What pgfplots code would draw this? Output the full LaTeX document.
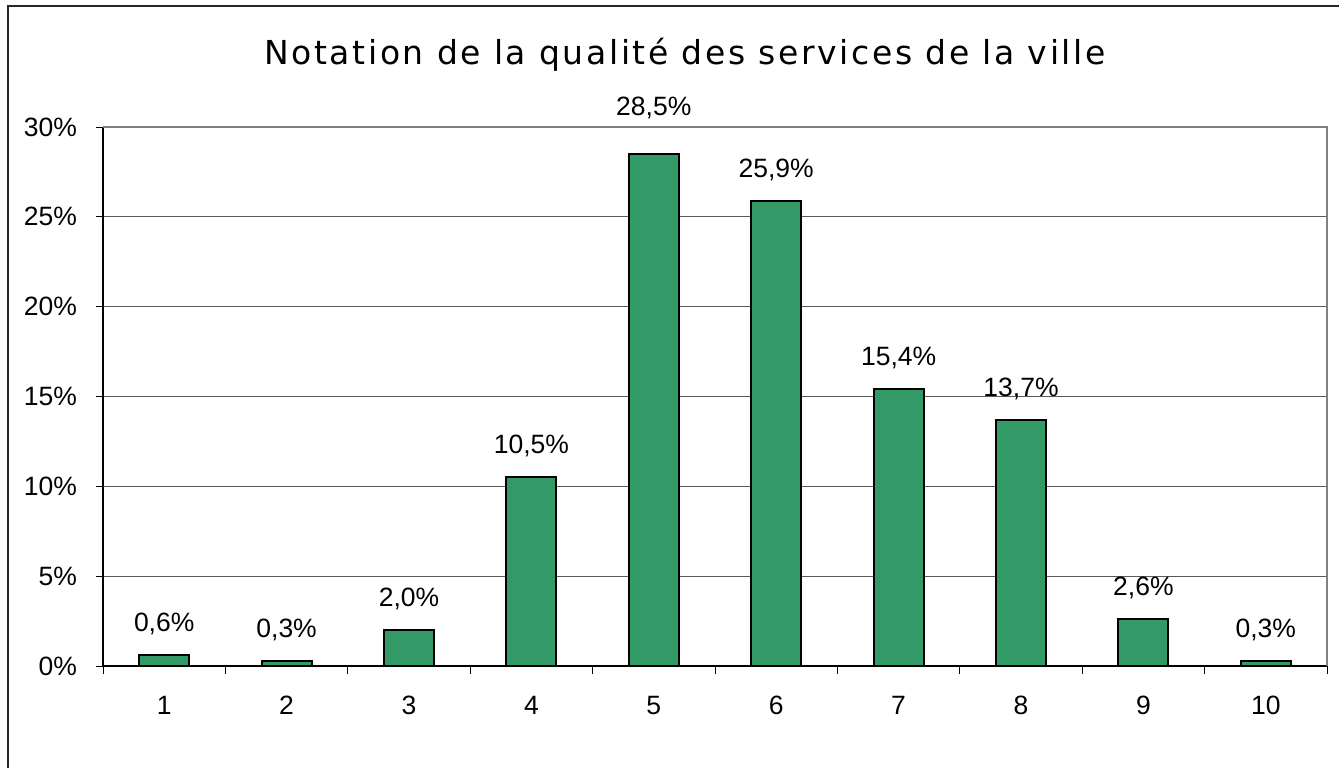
\documentclass[border=0pt]{standalone}
\usepackage{pgfplots}
\pgfplotsset{compat=1.18}
\usepackage{fontspec}
\setmainfont{Liberation Sans}
\newfontfamily\titlefont[LetterSpace=8]{DejaVu Sans}
\definecolor{barg}{HTML}{339966}
\begin{document}
\begin{tikzpicture}
\useasboundingbox (0,0) rectangle (669.5pt,-383.5pt);
\draw[line width=0.8pt, black!85] (4pt,-400pt) -- (4pt,-3pt) -- (700pt,-3pt);
\node[font=\titlefont\fontsize{16.5}{20}\selectfont] at (342.5pt,-27.5pt) {Notation de la qualité des services de la ville};
\begin{axis}[
  at={(51.5pt,-333pt)}, anchor=south west,
  scale only axis, width=612pt, height=269.5pt,
  xmin=0.5, xmax=10.5, ymin=0, ymax=30,
  axis x line*=bottom, axis y line*=left,
  axis line style={black, line width=0.75pt},
  xtick={1,...,10},
  minor xtick={0.5,1.5,...,10.5},
  major x tick style={draw=none},
  tick align=outside,
  major tick length=3.5pt,
  minor tick length=4pt,
  tick style={black, line width=0.5pt},
  ytick={0,5,...,30},
  ymajorgrids,
  grid style={black!65, line width=0.5pt},
  /pgf/number format/assume math mode=true,
  yticklabel={\pgfmathprintnumber{\tick}\%},
  tick label style={font=\fontsize{13.25}{16}\selectfont},
  yticklabel style={xshift=-6pt},
  xticklabel style={yshift=-8pt},
  ybar, bar width=25pt, bar shift=0pt,
  clip=false,
  nodes near coords={\pgfmathprintnumber[fixed, fixed zerofill, precision=1, use comma]{\pgfplotspointmeta}\%},
  nodes near coords style={font=\fontsize{13.25}{16}\selectfont, anchor=center, yshift=15.5pt, black},
  point meta=y,
]
\addplot[fill=barg, draw=black, line width=1pt] coordinates {
  (1,0.6) (2,0.3) (3,2.0) (4,10.5) (6,25.9) (7,15.4) (8,13.7) (9,2.6) (10,0.3)};
\addplot[fill=barg, draw=black, line width=1pt, nodes near coords style={yshift=7.5pt}] coordinates {(5,28.5)};
\draw[gray, line width=0.9pt] (rel axis cs:0,1) -- (rel axis cs:1,1) -- (rel axis cs:1,0);
\end{axis}
\end{tikzpicture}
\end{document}
